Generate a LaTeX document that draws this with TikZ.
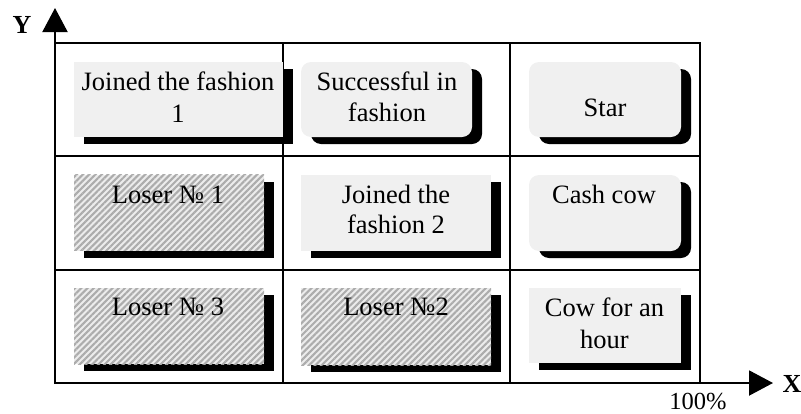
\documentclass[tikz,border=0pt]{standalone}
\usepackage{fontspec}
\setmainfont{Liberation Serif}
\usetikzlibrary{arrows.meta,shadows,patterns.meta}
\definecolor{boxfill}{RGB}{240,240,240}
\definecolor{hatchbg}{RGB}{236,236,236}
\definecolor{hatchfg}{RGB}{172,172,172}
\begin{document}
\begin{tikzpicture}[x=1pt,y=-1pt,
  gridline/.style={line width=2pt},
  axisline/.style={line width=2pt,-{Triangle[width=25pt,length=24pt]}},
  boxbase/.style={rectangle,inner sep=0pt,outer sep=0pt,minimum width=#1},
  shadowed/.style={drop shadow={shadow xshift=10pt,shadow yshift=-7pt,fill=black,opacity=1,shadow scale=1}},
  plainbox/.style={boxbase=209pt,minimum height=75pt,shadowed,fill=boxfill},
  roundbox/.style={boxbase=#1,minimum height=75pt,shadowed,fill=boxfill,rounded corners=10pt},
  hatchbox/.style={boxbase=#1,minimum height=76pt,shadowed,preaction={fill=hatchbg},
     pattern={Lines[angle=45,distance=4.4pt,line width=2.1pt]},pattern color=hatchfg},
  txt/.style={anchor=base,inner sep=0pt,font=\fontsize{26.5}{31.5}\selectfont},
  axlabel/.style={inner sep=0pt,font=\fontsize{26}{30}\selectfont\bfseries}
]
\useasboundingbox (0,0) rectangle (801,413);
% grid
\coordinate (O) at (55,383);
\coordinate (Ytip) at (55,8);
\coordinate (Xtip) at (773,383);
\draw[gridline] (55,43) rectangle (700,383);
\draw[gridline] (283,43) -- (283,383);
\draw[gridline] (510,43) -- (510,383);
\draw[gridline] (55,156) -- (700,156);
\draw[gridline] (55,270) -- (700,270);
% axes
\draw[axisline] (O) -- (Ytip);
\draw[axisline] (O) -- (Xtip);
\node[axlabel] (ylab) at (22,24.5) {Y};
\node[axlabel] (xlab) at (792,384) {X};
\node[txt,font=\fontsize{24.5}{29}\selectfont] (pct) at (698,409) {100\%};
% row 1
\node[plainbox] (b11) at (178.5,99.5) {};
\node[roundbox=171pt] (b12) at (386.5,99.5) {};
\node[roundbox=152pt] (b13) at (605,99.5) {};
% row 2
\node[hatchbox=190pt] (b21) at (169,212.5) {};
\node[plainbox,minimum width=190pt,minimum height=76pt] (b22) at (396,213) {};
\node[roundbox=152pt,minimum height=76pt] (b23) at (605,213) {};
% row 3
\node[hatchbox=190pt] (b31) at (169,326) {};
\node[hatchbox=190pt,minimum height=77pt] (b32) at (396,326.5) {};
\node[plainbox,minimum width=152pt] (b33) at (605,325.5) {};
% texts
\node[txt] (t11a) at (178,90) {Joined the fashion};
\node[txt] (t11b) at (178,122) {1};
\node[txt] (t12a) at (387,90) {Successful in};
\node[txt] (t12b) at (387,121) {fashion};
\node[txt] (t13) at (605,116) {Star};
\node[txt] (t21) at (168,203) {Loser № 1};
\node[txt] (t22a) at (396,203) {Joined the};
\node[txt] (t22b) at (396,233) {fashion 2};
\node[txt] (t23) at (604,203) {Cash cow};
\node[txt] (t31) at (168,315) {Loser № 3};
\node[txt] (t32) at (396,315) {Loser №2};
\node[txt] (t33a) at (604.5,316) {Cow for an};
\node[txt] (t33b) at (604.5,348) {hour};
\end{tikzpicture}
\end{document}
